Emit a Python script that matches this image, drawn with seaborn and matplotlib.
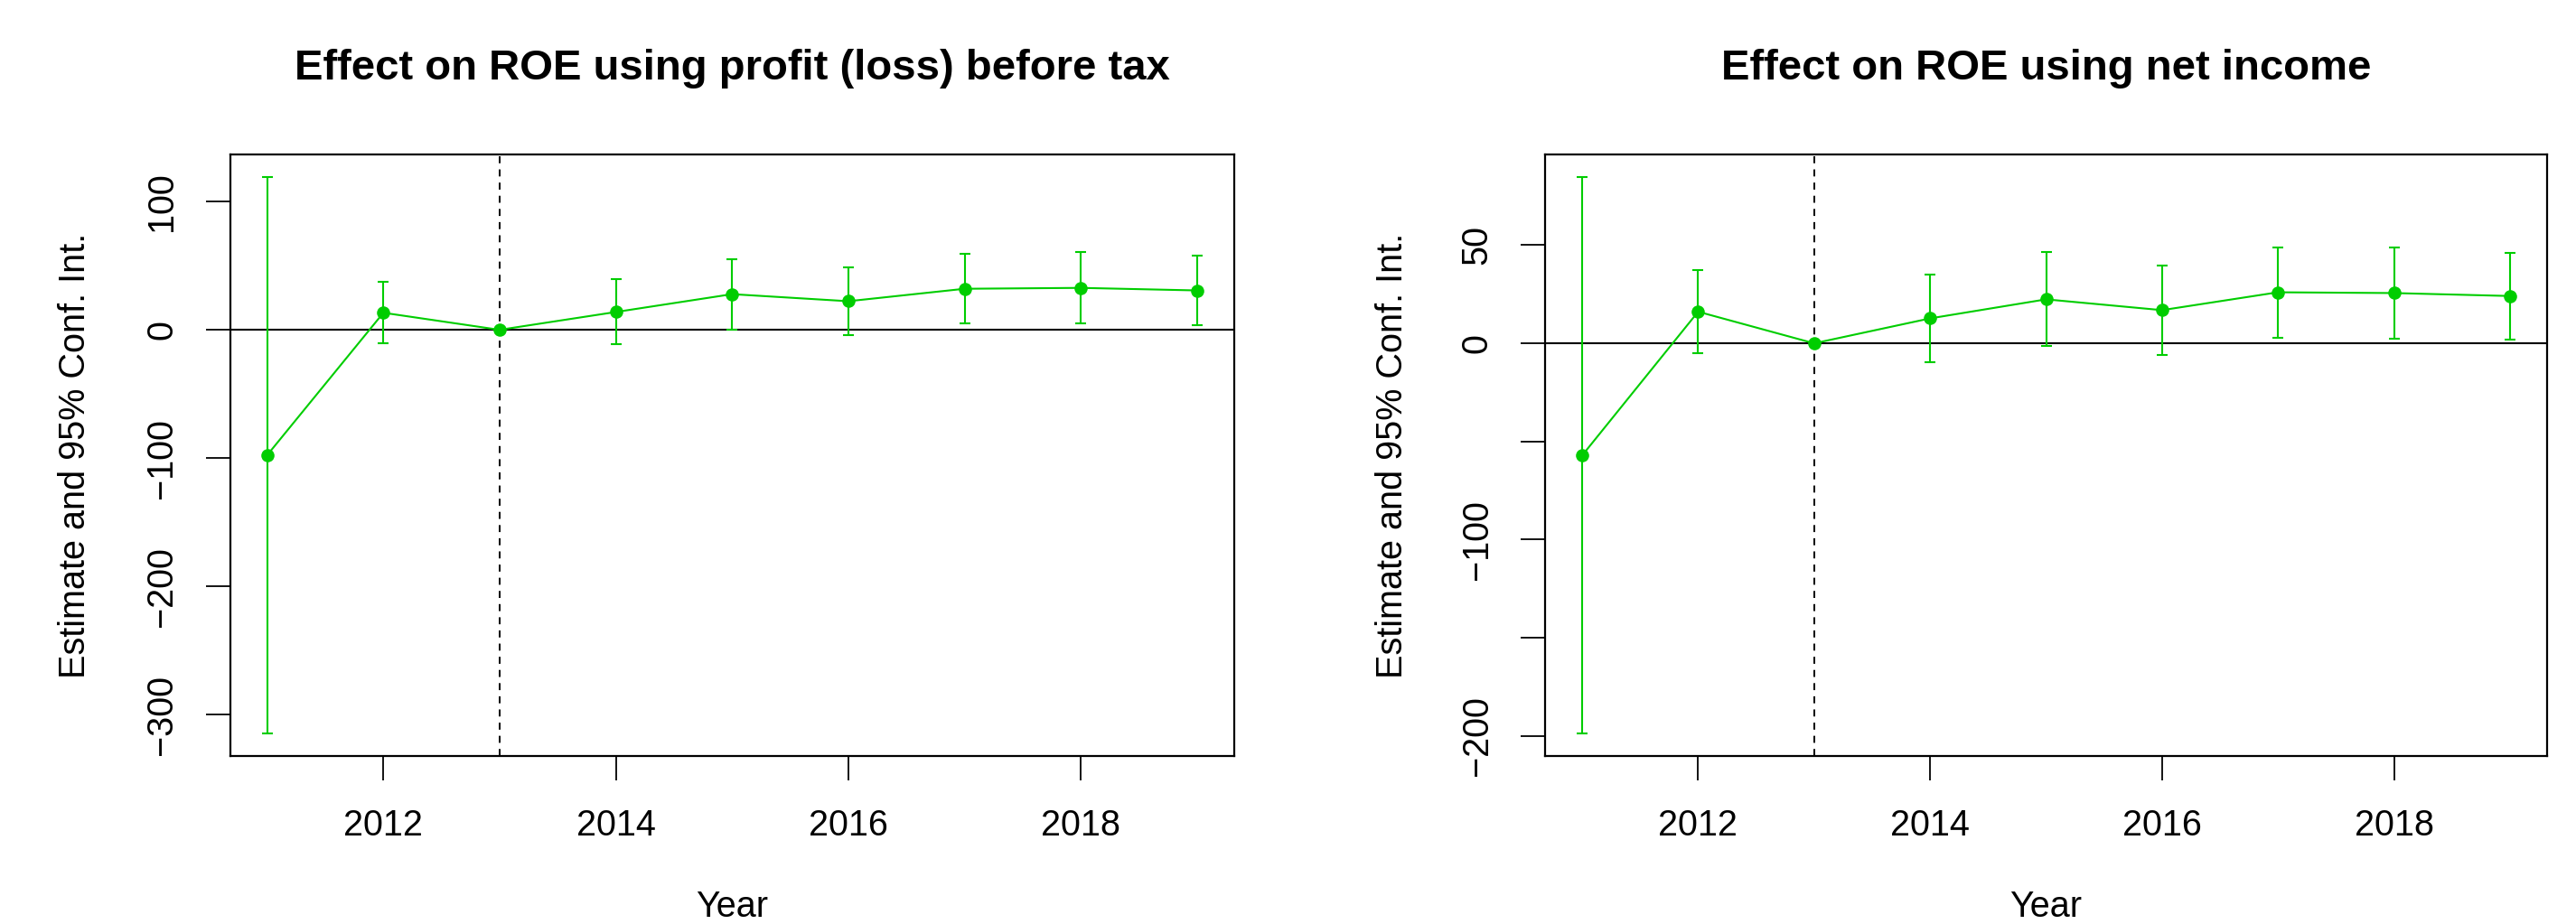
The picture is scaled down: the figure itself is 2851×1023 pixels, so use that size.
import matplotlib
matplotlib.use("Agg")
import matplotlib.pyplot as plt
import seaborn as sns
import pandas as pd

years = [2011, 2012, 2013, 2014, 2015, 2016, 2017, 2018, 2019]

pbt_est = [-97.7, 13.3, 0.0, 13.9, 27.8, 22.3, 32.0, 32.7, 30.7]
pbt_low = [-314.9, -10.4, 0.0, -11.0, 0.3, -3.9, 4.9, 4.9, 3.6]
pbt_high = [119.4, 37.2, 0.0, 39.5, 55.0, 48.5, 59.2, 60.5, 57.9]

ni_est = [-57.1, 16.1, 0.0, 12.7, 22.4, 16.9, 26.0, 25.6, 24.1]
ni_low = [-198.9, -4.9, 0.0, -9.5, -1.5, -6.1, 3.0, 2.5, 2.1]
ni_high = [84.8, 37.4, 0.0, 34.9, 46.5, 39.7, 48.8, 48.6, 45.9]

titles = ["Effect on ROE using profit (loss) before tax",
          "Effect on ROE using net income"]
pbt_yticks = [-300, -200, -100, 0, 100]
pbt_ylabels = ["\u2212300", "\u2212200", "\u2212100", "0", "100"]
ni_yticks = [-200, -150, -100, -50, 0, 50]
ni_ylabels = ["\u2212200", "", "\u2212100", "", "0", "50"]
xticks = [2012, 2014, 2016, 2018]
event_year = 2013

GREEN = "#00CD00"


def draw_panel(ax, est, low, high, title, yticks, ylabels, ylim):
    df = pd.DataFrame({"Year": years, "est": est, "low": low, "high": high})
    ax.axhline(0, color="black", lw=1.5, zorder=1)
    ax.axvline(event_year, color="black", lw=1.4, ls=(0, (4, 3.5)), zorder=1)
    sns.lineplot(data=df, x="Year", y="est", ax=ax, color=GREEN, lw=1.5,
                 marker="o", markersize=10.5, markeredgewidth=0, zorder=3)
    ax.errorbar(df["Year"], df["est"],
                yerr=[df["est"] - df["low"], df["high"] - df["est"]],
                fmt="none", ecolor=GREEN, elinewidth=1.5, capsize=4.5,
                capthick=1.5, zorder=2)
    ax.set_xlim(2010.68, 2019.32)
    ax.set_ylim(*ylim)
    ax.set_xticks(xticks)
    ax.set_xticklabels([str(y) for y in xticks])
    ax.set_yticks(yticks)
    ax.set_yticklabels(ylabels)
    for lab in ax.get_yticklabels():
        lab.set_rotation(90)
        lab.set_va("center")
    ax.tick_params(axis="both", direction="out", length=19.5, width=1.3,
                   labelsize=28.5, color="black", labelcolor="black",
                   bottom=True, left=True, top=False, right=False)
    ax.tick_params(axis="x", pad=22)
    ax.tick_params(axis="y", pad=21)
    for s in ax.spines.values():
        s.set_visible(True)
        s.set_color("black")
        s.set_linewidth(1.6)
    ax.set_title(title, fontsize=34, fontweight="bold", pad=60, color="black")
    ax.set_xlabel("Year", fontsize=28.5, va="baseline", color="black")
    ax.set_ylabel("Estimate and 95% Conf. Int.", fontsize=28.5, va="center",
                  color="black")


sns.set_style("ticks")
plt.rcParams["font.family"] = ["Liberation Sans", "DejaVu Sans"]
plt.rcParams["text.color"] = "black"

fig = plt.figure(figsize=(28.51, 10.23), dpi=100)
W, H = 2851, 1023
ax1 = fig.add_axes([254.5 / W, (H - 837) / H, (1366 - 254.5) / W, (837 - 171) / H])
ax2 = fig.add_axes([1710 / W, (H - 837) / H, (2819 - 1710) / W, (837 - 171) / H])

draw_panel(ax1, pbt_est, pbt_low, pbt_high, titles[0], pbt_yticks, pbt_ylabels,
           (-332.2, 136.7))
draw_panel(ax2, ni_est, ni_low, ni_high, titles[1], ni_yticks, ni_ylabels,
           (-210.2, 96.2))

ax1.yaxis.set_label_coords(-0.154, 0.5)
ax2.yaxis.set_label_coords(-0.152, 0.5)
ax1.xaxis.set_label_coords(0.5, -0.268)
ax2.xaxis.set_label_coords(0.5, -0.268)

fig.savefig("out.png", dpi=100)
